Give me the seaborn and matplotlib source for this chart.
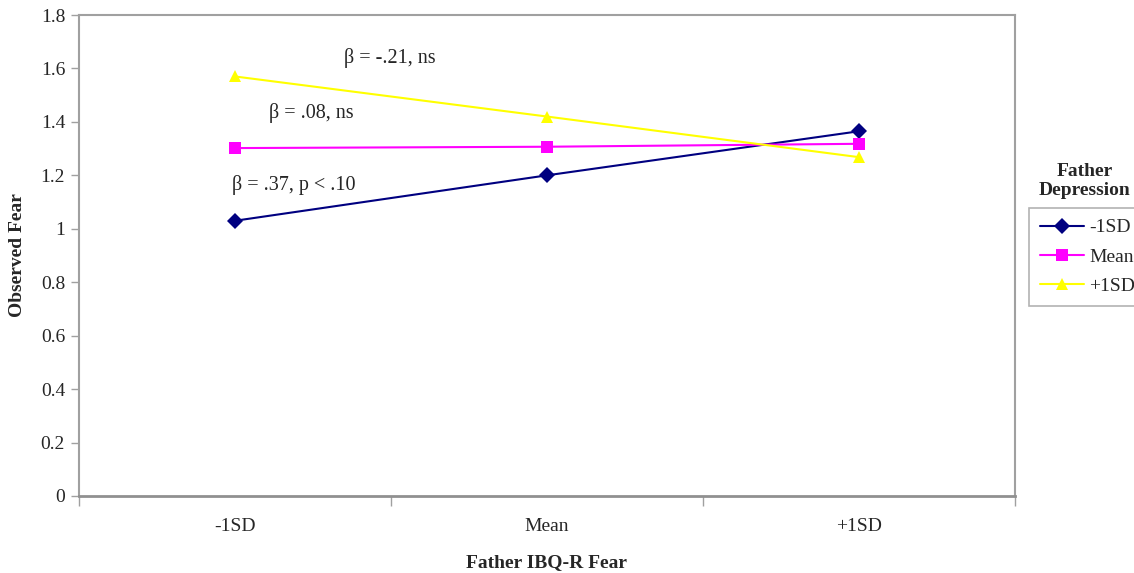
import matplotlib
matplotlib.use("Agg")
import matplotlib.pyplot as plt
import seaborn as sns
import pandas as pd

categories = ["-1SD", "Mean", "+1SD"]
series_names = ["-1SD", "Mean", "+1SD"]
low_dep = [1.03, 1.20, 1.365]
mean_dep = [1.302, 1.307, 1.318]
high_dep = [1.57, 1.42, 1.268]
y_ticks = [0, 0.2, 0.4, 0.6, 0.8, 1.0, 1.2, 1.4, 1.6, 1.8]
y_tick_labels = ["0", "0.2", "0.4", "0.6", "0.8", "1", "1.2", "1.4", "1.6", "1.8"]
annotations = ["β = -.21, ns", "β = .08, ns", "β = .37, p < .10"]

rows = []
for name, vals in zip(series_names, [low_dep, mean_dep, high_dep]):
    for c, v in zip(categories, vals):
        rows.append({"Father IBQ-R Fear": c, "Observed Fear": v, "Father Depression": name})
df = pd.DataFrame(rows)

sns.set_theme(style="white")
plt.rcParams["font.family"] = ["Liberation Serif", "DejaVu Serif"]

fig = plt.figure(figsize=(11.34, 5.73), dpi=100)
ax = fig.add_axes([79/1134, 1-496/573, 936/1134, 481/573])

palette = {"-1SD": "#000080", "Mean": "#FF00FF", "+1SD": "#FFFF00"}
markers = {"-1SD": "D", "Mean": "s", "+1SD": "^"}
sns.lineplot(data=df, x="Father IBQ-R Fear", y="Observed Fear", hue="Father Depression",
             style="Father Depression", markers=markers, dashes=False, palette=palette,
             markersize=8, markeredgewidth=0, linewidth=1.5, ax=ax, legend=True, sort=False)

ax.set_xlim(-0.5, 2.5)
ax.set_ylim(0, 1.8)
ax.set_yticks(y_ticks)
ax.set_yticklabels(y_tick_labels, fontsize=14)
ax.set_xticks([0, 1, 2])
ax.set_xticklabels(categories, fontsize=14)
ax.set_xticks([-0.5, 0.5, 1.5, 2.5], minor=True)
ax.tick_params(axis="x", which="major", length=0, pad=16)
ax.tick_params(axis="x", which="minor", length=7, width=1, color="#A0A0A0", direction="out", bottom=True)
ax.tick_params(axis="y", which="major", length=6, width=1, color="#A0A0A0", direction="out", left=True, pad=4)

for side in ["left", "top", "right"]:
    ax.spines[side].set_color("#A0A0A0")
    ax.spines[side].set_linewidth(1.5)
ax.spines["bottom"].set_color("#909090")
ax.spines["bottom"].set_linewidth(2.0)

ax.set_xlabel("Father IBQ-R Fear", fontsize=14, fontweight="bold", va="center")
ax.set_ylabel("Observed Fear", fontsize=14, fontweight="bold", va="center")
ax.xaxis.set_label_coords(0.5, (496-563)/481)
ax.yaxis.set_label_coords((18-79)/936, 0.5)

ax.text(0.35, 1.64, annotations[0], fontsize=14.5, ha="left", va="center")
ax.text(0.11, 1.433, annotations[1], fontsize=14.5, ha="left", va="center")
ax.text(-0.01, 1.164, annotations[2], fontsize=14.5, ha="left", va="center")

handles, labels = ax.get_legend_handles_labels()
ax.get_legend().remove()
leg = fig.legend(handles, labels, loc="upper left", bbox_to_anchor=(1029/1134, 1-208/573),
                 frameon=True, fancybox=False, edgecolor="#A0A0A0", fontsize=14,
                 handlelength=2.3, handletextpad=0.25, borderpad=0.55, labelspacing=0.6,
                 borderaxespad=0)
leg.get_frame().set_linewidth(1.2)
fig.text(1085/1134, 1-181/573, "Father\nDepression", fontsize=14, fontweight="bold",
         ha="center", va="center", linespacing=1.15)

fig.savefig("out.png", dpi=100)
